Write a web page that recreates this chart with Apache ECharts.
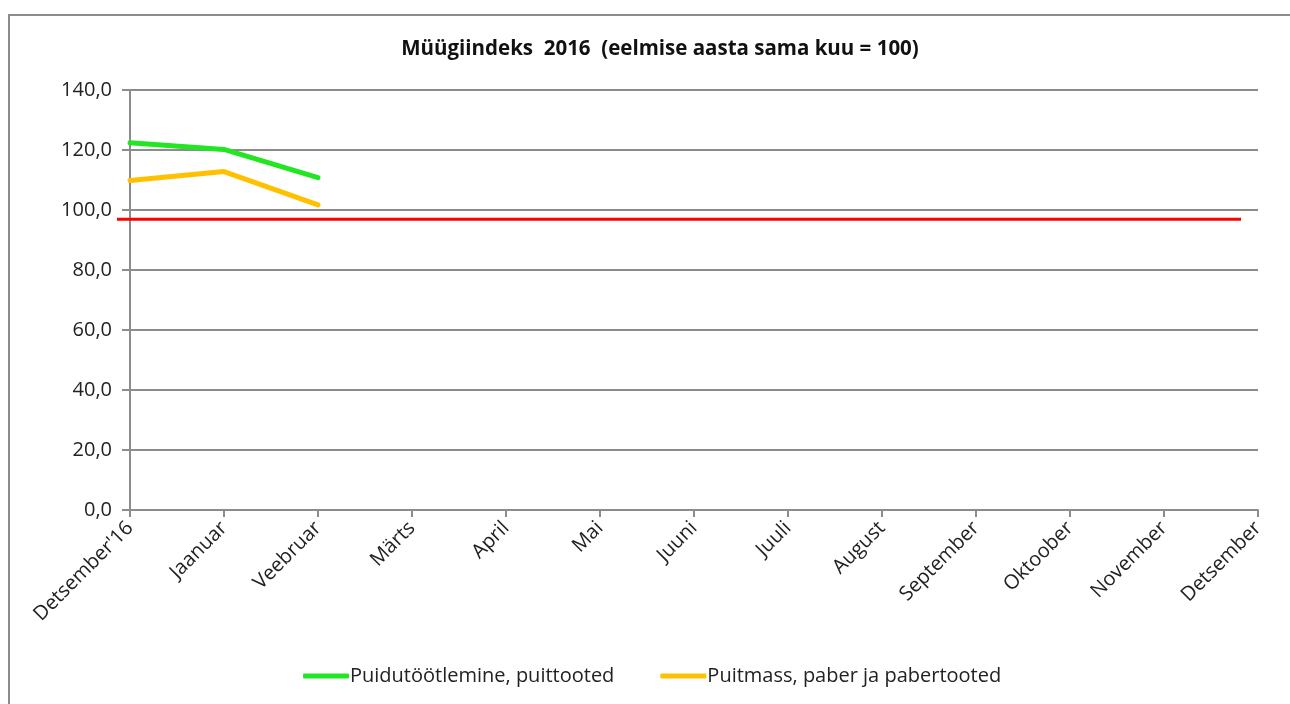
<!DOCTYPE html>
<html>
<head>
<meta charset="utf-8">
<script src="https://cdn.jsdelivr.net/npm/echarts@6/dist/echarts.min.js"></script>
<style>
  html, body { margin: 0; padding: 0; background: #fff; }
  #main { width: 1290px; height: 704px; }
</style>
</head>
<body>
<div id="main"></div>
<script>
// andmed
var kuud = ["Detsember'16", 'Jaanuar', 'Veebruar', 'Märts', 'April', 'Mai', 'Juuni',
    'Juuli', 'August', 'September', 'Oktoober', 'November', 'Detsember'];
var puidutootlemine = [122.4, 120.2, 110.8];
var puitmass = [109.8, 112.8, 101.7];
var baas = [96.9, 96.9, 96.9, 96.9, 96.9, 96.9, 96.9, 96.9, 96.9, 96.9, 96.9, 96.9, 96.9];

var myChart = echarts.init(document.getElementById('main'));
var font = 'Open Sans';
var option = {
    animation: false,
    graphic: [{
        type: 'rect',
        shape: { x: 9, y: 15, width: 1400, height: 800 },
        style: { fill: 'none', stroke: '#8c8c8c', lineWidth: 2 }
    }],
    title: {
        text: 'Müügiindeks  2016  (eelmise aasta sama kuu = 100)',
        left: 655,
        textAlign: 'center',
        top: 34,
        textStyle: { fontFamily: font, fontSize: 20.5, fontWeight: 'bold', color: '#111' }
    },
    legend: {
        bottom: 13,
        left: 298,
        itemGap: 46,
        itemWidth: 46,
        itemHeight: 5,
        icon: 'roundRect',
        textStyle: { fontFamily: font, fontSize: 20, color: '#222', padding: [0, 0, 0, -4] },
        data: ['Puidutöötlemine, puittooted', 'Puitmass, paber ja pabertooted']
    },
    grid: [
        { left: 130, right: 32, top: 90, bottom: 194, containLabel: false },
        { left: 117, right: 49, top: 90, bottom: 194, containLabel: false }
    ],
    xAxis: [{
        type: 'category',
        gridIndex: 0,
        data: kuud,
        boundaryGap: false,
        axisLine: { lineStyle: { color: '#8c8c8c', width: 2 } },
        axisTick: { show: true, length: 7, lineStyle: { color: '#8c8c8c', width: 2 } },
        axisLabel: {
            rotate: 45, interval: 0, margin: 15,
            fontFamily: font, fontSize: 20, color: '#222'
        },
        splitLine: { show: false }
    }, {
        type: 'category',
        gridIndex: 1,
        data: kuud,
        boundaryGap: false,
        show: false
    }],
    yAxis: [{
        type: 'value',
        gridIndex: 0,
        min: 0, max: 140, interval: 20,
        axisLine: { show: true, lineStyle: { color: '#8c8c8c', width: 2 } },
        axisTick: { show: true, length: 8, lineStyle: { color: '#8c8c8c', width: 2 } },
        axisLabel: {
            margin: 18, fontFamily: font, fontSize: 20, color: '#222',
            formatter: function (v) { return v.toFixed(1).replace('.', ','); }
        },
        splitLine: { lineStyle: { color: '#8c8c8c', width: 2 } }
    }, {
        type: 'value',
        gridIndex: 1,
        min: 0, max: 140, interval: 20,
        show: false
    }],
    series: [{
        name: 'Puidutöötlemine, puittooted',
        type: 'line',
        data: puidutootlemine,
        xAxisIndex: 0, yAxisIndex: 0,
        showSymbol: false,
        color: '#22e622',
        lineStyle: { width: 5, cap: 'round', join: 'round' }
    }, {
        name: 'Puitmass, paber ja pabertooted',
        type: 'line',
        data: puitmass,
        xAxisIndex: 0, yAxisIndex: 0,
        showSymbol: false,
        color: '#ffc000',
        lineStyle: { width: 5, cap: 'round', join: 'round' }
    }, {
        name: 'baas',
        type: 'line',
        data: baas,
        xAxisIndex: 1, yAxisIndex: 1,
        showSymbol: false,
        color: '#ff0000',
        lineStyle: { width: 3 }
    }]
};
myChart.setOption(option);
</script>
</body>
</html>
